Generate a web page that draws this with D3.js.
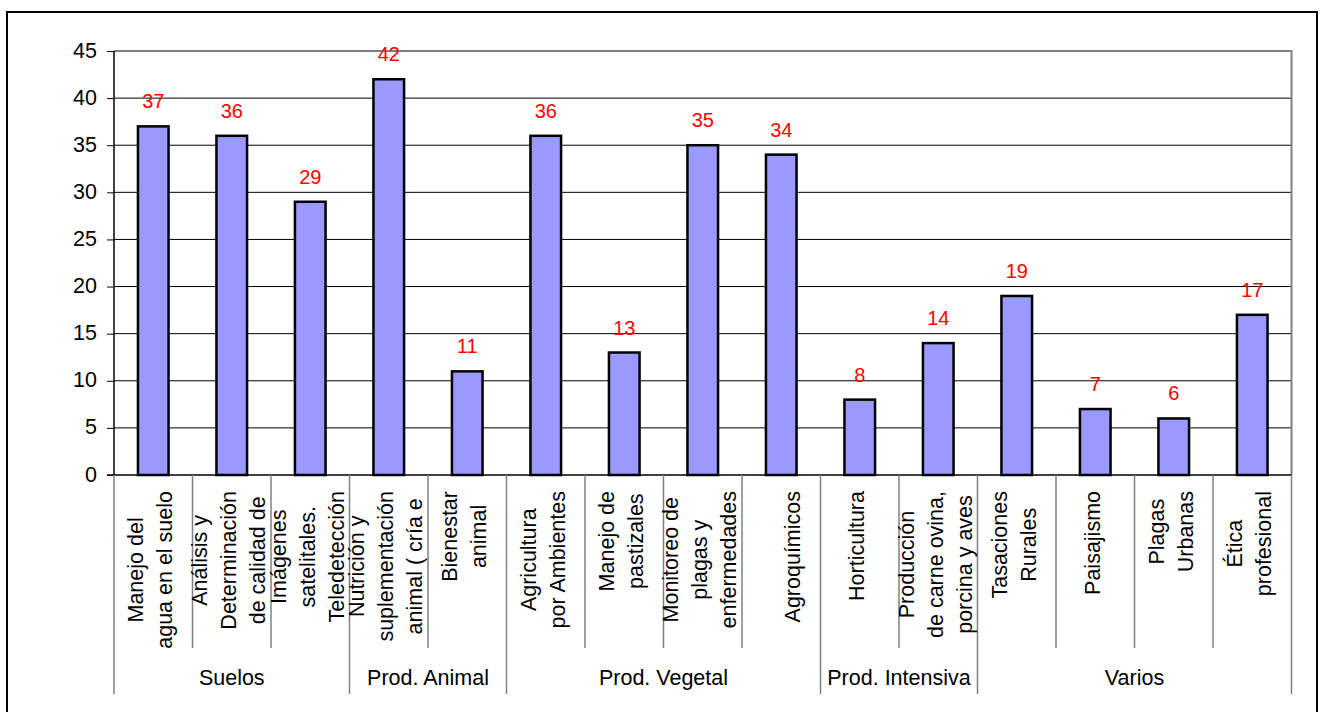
<!DOCTYPE html>
<html><head><meta charset="utf-8">
<script src="https://cdn.jsdelivr.net/npm/d3@7/dist/d3.min.js"></script>
<style>body{margin:0;background:#fff;}svg{display:block;font-family:"Liberation Sans",Arial,sans-serif;}</style>
</head><body>
<svg id="c" width="1321" height="712"></svg>
<script>
const categories = [
  ["Manejo del", "agua en el suelo"],
  ["Análisis y", "Determinación", "de calidad de"],
  ["Imágenes", "satelitales.", "Teledetección"],
  ["Nutrición y", "suplementación", "animal ( cría e"],
  ["Bienestar", "animal"],
  ["Agricultura", "por Ambientes"],
  ["Manejo de", "pastizales"],
  ["Monitoreo de", "plagas y", "enfermedades"],
  ["", "Agroquímicos"],
  ["Horticultura"],
  ["Producción", "de carne ovina,", "porcina y aves"],
  ["Tasaciones", "Rurales"],
  ["Paisajismo"],
  ["Plagas", "Urbanas"],
  ["Ética", "profesional"]
];
const values = [37, 36, 29, 42, 11, 36, 13, 35, 34, 8, 14, 19, 7, 6, 17];
const groups = ["Suelos", "Prod. Animal", "Prod. Vegetal", "Prod. Intensiva", "Varios"];
const groupSizes = [3, 2, 4, 2, 4];
const yTicks = [0, 5, 10, 15, 20, 25, 30, 35, 40, 45];

const svg = d3.select("#c");
const L = 114, R = 1291.5, T = 51, B = 475;
const idx = d3.range(categories.length);
const x = d3.scaleBand().domain(idx).range([L, R]).paddingInner(0).paddingOuter(0);
const y = d3.scaleLinear().domain([0, 45]).range([B, T]);
const bw = x.bandwidth();

// outer frame
svg.append("rect").attr("x", 7).attr("y", 12).attr("width", 1310).attr("height", 730)
  .attr("fill", "none").attr("stroke", "#000").attr("stroke-width", 2);

// gridlines
svg.append("g").selectAll("line").data(yTicks.filter(t => t > 0 && t < 45)).join("line")
  .attr("x1", L).attr("x2", R).attr("y1", d => y(d)).attr("y2", d => y(d))
  .attr("stroke", "#000").attr("stroke-width", 1);

// plot area top & right border
svg.append("path").attr("d", `M${L},${y(45)}H${R}V${B}`)
  .attr("fill", "none").attr("stroke", "#808080").attr("stroke-width", 2);

// y axis
const yAxis = d3.axisLeft(y).tickValues(yTicks).tickSize(7).tickPadding(10);
const ya = svg.append("g").attr("transform", `translate(${L},0)`).call(yAxis);
ya.select(".domain").remove();
ya.selectAll(".tick line").attr("stroke", "#000").attr("stroke-width", 1);
ya.selectAll(".tick text").attr("font-size", "21.5px").attr("fill", "#000")
  .attr("font-family", "Liberation Sans, Arial, sans-serif").attr("dy", "0.28em");
svg.append("line").attr("x1", L).attr("x2", L).attr("y1", T).attr("y2", B)
  .attr("stroke", "#000").attr("stroke-width", 1.5);

// bars
const barW = bw * 0.39;
svg.append("g").selectAll("rect").data(values).join("rect")
  .attr("x", (d, i) => x(i) + bw / 2 - barW / 2)
  .attr("width", barW)
  .attr("y", d => y(d))
  .attr("height", d => B - y(d))
  .attr("fill", "#9999FF").attr("stroke", "#000").attr("stroke-width", 2.5);

// bottom axis line
svg.append("line").attr("x1", L - 7).attr("x2", R).attr("y1", B).attr("y2", B)
  .attr("stroke", "#000").attr("stroke-width", 1.5);

// data labels
svg.append("g").selectAll("text").data(values).join("text")
  .attr("x", (d, i) => x(i) + bw / 2).attr("y", d => y(d) - 18)
  .attr("text-anchor", "middle").attr("font-size", "20px").attr("fill", "#FF0000")
  .text(d => d);

// category dividers
const groupBounds = [0];
groupSizes.forEach(s => groupBounds.push(groupBounds[groupBounds.length - 1] + s));
const divs = d3.range(0, categories.length + 1);
svg.append("g").selectAll("line").data(divs).join("line")
  .attr("x1", d => d < categories.length ? x(d) : R)
  .attr("x2", d => d < categories.length ? x(d) : R)
  .attr("y1", B).attr("y2", d => groupBounds.includes(d) ? 694 : 648)
  .attr("stroke", "#808080").attr("stroke-width", 1.5);

// category labels
const lineH = 29;
categories.forEach((lines, i) => {
  const g = svg.append("g");
  const t = g.selectAll("text").data(lines).join("text")
    .attr("font-size", "21.5px").attr("fill", "#000").attr("text-anchor", "middle")
    .text(d => d);
  let maxLen = 0;
  t.each(function () { maxLen = Math.max(maxLen, this.getComputedTextLength()); });
  const n = lines.length;
  const cx = x(i) + bw / 2;
  g.attr("transform", `translate(${cx},${491 + maxLen / 2}) rotate(-90)`);
  t.attr("x", 0).attr("y", (d, k) => (k - (n - 1) / 2) * lineH + 4.5);
});

// group labels
let start = 0;
groups.forEach((gname, gi) => {
  const x0 = x(start), end = start + groupSizes[gi];
  const x1 = end < categories.length ? x(end) : R;
  svg.append("text").attr("x", (x0 + x1) / 2).attr("y", 685)
    .attr("text-anchor", "middle").attr("font-size", "21.5px").attr("fill", "#000")
    .text(gname);
  start = end;
});
</script>
</body></html>
